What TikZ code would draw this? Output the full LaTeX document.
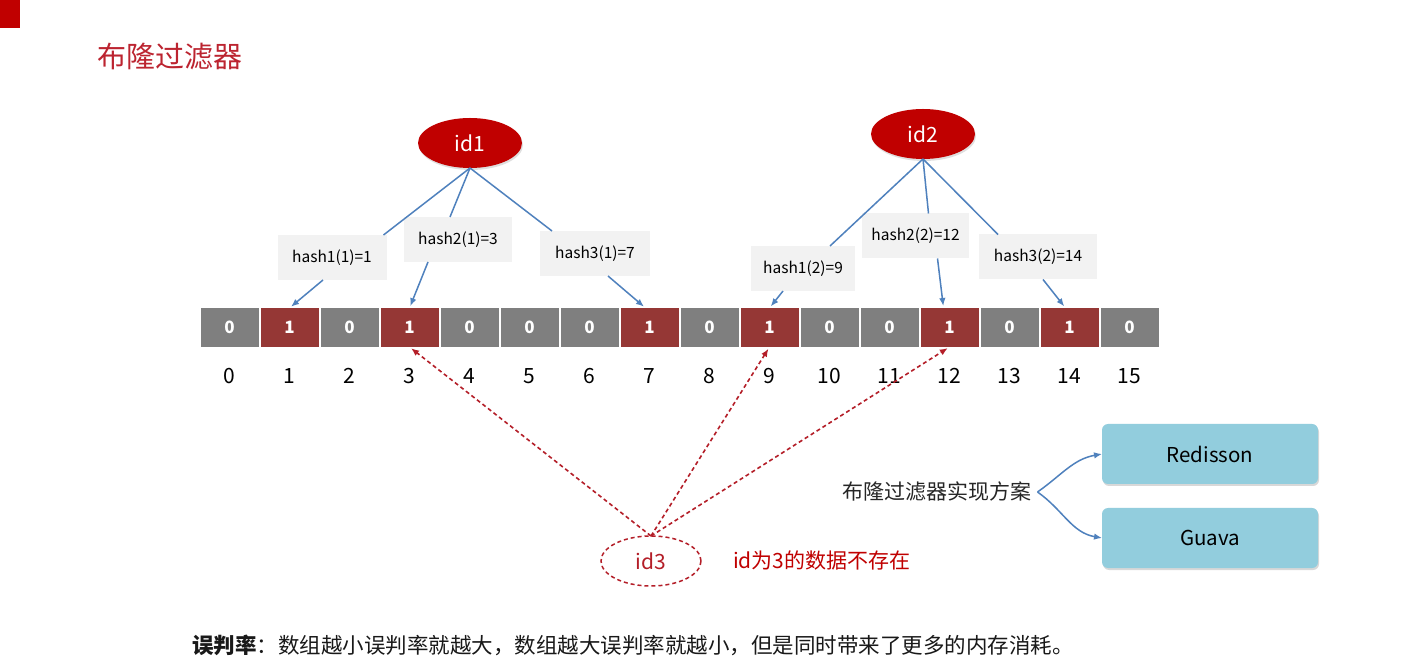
\documentclass[tikz,border=0pt]{standalone}
\usepackage{fontspec}
\setmainfont{Noto Sans CJK SC}
\usepackage{tikz}
\usetikzlibrary{arrows.meta,positioning,shapes.geometric,shadows}
\definecolor{BFRed}{RGB}{192,0,0}
\definecolor{BFTitle}{RGB}{188,36,48}
\definecolor{CellGray}{RGB}{127,127,127}
\definecolor{CellRed}{RGB}{149,55,53}
\definecolor{HashGray}{RGB}{242,242,242}
\definecolor{LinkBlue}{RGB}{79,129,189}
\definecolor{DashRed}{RGB}{180,30,40}
\definecolor{SoftCyan}{RGB}{146,205,221}
\newcommand{\setfs}[1]{\fontsize{#1}{#1}\selectfont}

\begin{document}
\begin{tikzpicture}[x=1pt,y=1pt,>={Latex[length=8pt,width=6.5pt]},node distance=2pt,every node/.style={inner sep=0pt,outer sep=0pt}]
\tikzset{zero/.style={fill=CellGray,minimum width=58pt,minimum height=39pt,text=white,font=\setfs{17}\bfseries},one/.style={zero,fill=CellRed},idx/.style={font=\setfs{21},text height=15pt,text depth=0pt},idnode/.style={ellipse,fill=BFRed,minimum width=104pt,minimum height=50pt,text=white,font=\setfs{21},drop shadow={opacity=0.25,shadow xshift=1pt,shadow yshift=-2pt}},hbox/.style={fill=HashGray,minimum height=45pt,font=\setfs{15.5}},link/.style={LinkBlue,line width=1.5pt},probe/.style={DashRed,dash pattern=on 4pt off 3pt,line width=1.6pt},impl/.style={fill=SoftCyan,rounded corners=6pt,minimum width=216pt,minimum height=60pt,font=\setfs{20.5},drop shadow={opacity=0.3,shadow xshift=1pt,shadow yshift=-2pt}}}
\fill[white] (0,0) rectangle (1420,669);
\useasboundingbox (0,0) rectangle (1420,669);
\fill[BFRed] (0,641) rectangle (20,669);
\node[anchor=west,font=\setfs{29},text=BFTitle] (title) at (97,612) {布隆过滤器};
% bit array
\node[zero] (c0) at (229.5,341.5) {0};
\node[one,right=of c0] (c1) {1};
\node[zero,right=of c1] (c2) {0};
\node[one,right=of c2] (c3) {1};
\node[zero,right=of c3] (c4) {0};
\node[zero,right=of c4] (c5) {0};
\node[zero,right=of c5] (c6) {0};
\node[one,right=of c6] (c7) {1};
\node[zero,right=of c7] (c8) {0};
\node[one,right=of c8] (c9) {1};
\node[zero,right=of c9] (c10) {0};
\node[zero,right=of c10] (c11) {0};
\node[one,right=of c11] (c12) {1};
\node[zero,right=of c12] (c13) {0};
\node[one,right=of c13] (c14) {1};
\node[zero,right=of c14] (c15) {0};
\node[idx,below=22pt of c0] (n0) {0};
\node[idx,below=22pt of c1] (n1) {1};
\node[idx,below=22pt of c2] (n2) {2};
\node[idx,below=22pt of c3] (n3) {3};
\node[idx,below=22pt of c4] (n4) {4};
\node[idx,below=22pt of c5] (n5) {5};
\node[idx,below=22pt of c6] (n6) {6};
\node[idx,below=22pt of c7] (n7) {7};
\node[idx,below=22pt of c8] (n8) {8};
\node[idx,below=22pt of c9] (n9) {9};
\node[idx,below=22pt of c10] (n10) {10};
\node[idx,below=22pt of c11] (n11) {11};
\node[idx,below=22pt of c12] (n12) {12};
\node[idx,below=22pt of c13] (n13) {13};
\node[idx,below=22pt of c14] (n14) {14};
\node[idx,below=22pt of c15] (n15) {15};
% keys and hashes
\node[idnode] (id1) at (470,526) {id1};
\node[idnode] (id2) at (923,535) {id2};
\node[hbox,minimum width=109pt] (h11) at (332,411.5) {hash1(1)=1};
\node[hbox,minimum width=108pt] (h21) at (458,429.5) {hash2(1)=3};
\node[hbox,minimum width=110pt] (h31) at (595,415.5) {hash3(1)=7};
\node[hbox,minimum width=104pt] (h12) at (803,400.5) {hash1(2)=9};
\node[hbox,minimum width=107pt] (h22) at (915.5,433) {hash2(2)=12};
\node[hbox,minimum width=118pt] (h32) at (1038,412) {hash3(2)=14};
\draw[link] (id1.south) -- ([xshift=-3pt]h11.north east);
\draw[link] (id1.south) -- ([xshift=-8pt]h21.north);
\draw[link] (id1.south) -- ([xshift=12pt]h31.north west);
\draw[link] (id2.south) -- ([xshift=-25pt]h12.north east);
\draw[link] (id2.south) -- ([xshift=13pt]h22.north);
\draw[link] (id2.south) -- ([xshift=19pt]h32.north west);
\draw[link,->,shorten >=2pt] ([xshift=-9pt]h11.south) -- (c1.north);
\draw[link,->,shorten >=2pt] ([xshift=-30pt]h21.south) -- (c3.north);
\draw[link,->,shorten >=2pt] ([xshift=13pt]h31.south) -- ([xshift=-4pt]c7.north);
\draw[link,->,shorten >=2pt] ([xshift=-20pt]h12.south) -- (c9.north);
\draw[link,->,shorten >=2pt] ([xshift=22pt]h22.south) -- ([xshift=-6pt]c12.north);
\draw[link,->,shorten >=2pt] ([xshift=5pt]h32.south) -- ([xshift=-4pt]c14.north);
% missing key
\node[ellipse,draw=DashRed,dash pattern=on 4pt off 3pt,line width=1.5pt,minimum width=100pt,minimum height=50pt,text=DashRed,font=\setfs{21}] (id3) at (651,108) {id3};
\node[right=32pt of id3,font=\setfs{21},text=BFRed] (miss) {id为3的数据不存在};
\draw[probe,->,shorten >=2pt] (id3.north) -- (c3.south);
\draw[probe,->,shorten >=2pt] (id3.north) -- (c9.south);
\draw[probe,->,shorten >=2pt] (id3.north) -- (c12.south);
% implementations
\node[font=\setfs{21},text=black!85] (plan) at (937,177) {布隆过滤器实现方案};
\node[impl] (redisson) at (1210,215) {Redisson};
\node[impl] (guava) at (1210,131) {Guava};
\draw[link,->] ([xshift=6pt]plan.east) to[out=35,in=190] (redisson.west);
\draw[link,->] ([xshift=6pt]plan.east) to[out=-35,in=170] (guava.west);
\node[anchor=west,font=\setfs{21.5},text=black!90] (note) at (192,24) {\textbf{误判率}：数组越小误判率就越大，数组越大误判率就越小，但是同时带来了更多的内存消耗。};
\end{tikzpicture}
\end{document}
